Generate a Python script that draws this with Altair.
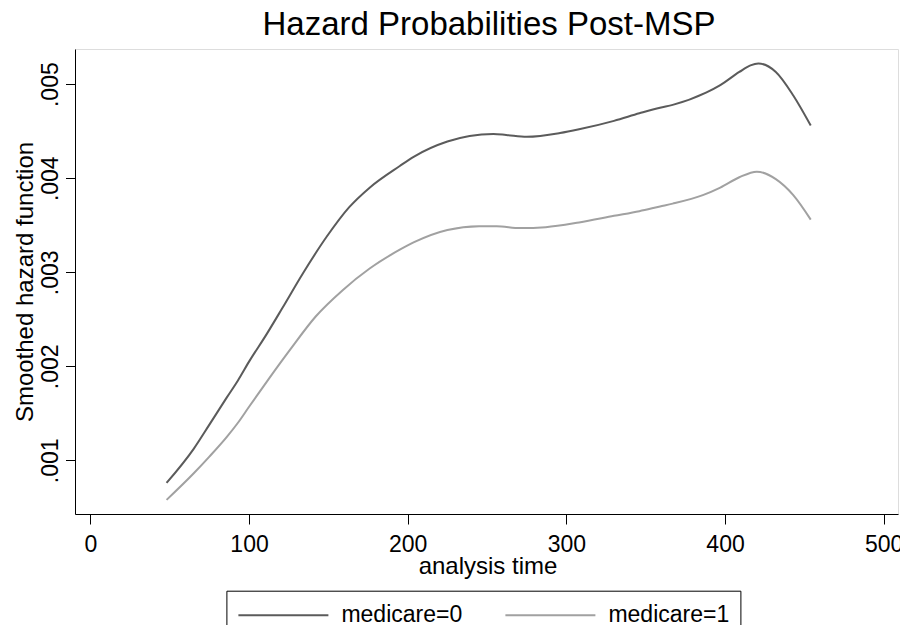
import altair as alt
import pandas as pd

# --- data ---
t0 = [48, 65, 75, 86, 93, 100, 111, 121, 134, 149, 163, 176, 195, 204,
      225, 239, 254, 262, 275, 296, 308, 330, 346, 359, 367, 388, 397, 409, 416,
      421, 432, 443, 454]
h0 = [0.00076, 0.00112, 0.00138, 0.00167, 0.00185, 0.00205, 0.00234,
      0.00262, 0.00299, 0.00338, 0.00369, 0.00390, 0.00413, 0.00423,
      0.00439, 0.00445, 0.00447, 0.00446, 0.00444, 0.00448, 0.00452, 0.00461,
      0.00469, 0.00475, 0.00478, 0.00491, 0.00499, 0.00513, 0.00520, 0.00522,
      0.00513, 0.00488, 0.00456]

t1 = [48, 65, 75, 86, 93, 100, 113, 126, 142, 159, 176, 195, 204, 225, 245, 256,
      271, 287, 308, 330, 346, 359, 367, 386, 397, 409, 420, 432, 443, 454]
h1 = [0.00058, 0.00086, 0.00104, 0.00125, 0.00140, 0.00157, 0.00188, 0.00218,
      0.00253, 0.00281, 0.00304, 0.00324, 0.00332, 0.00345, 0.00349, 0.00349,
      0.00347, 0.00348, 0.00353, 0.00360, 0.00365, 0.00370, 0.00373, 0.00382,
      0.00390, 0.00401, 0.00407, 0.00399, 0.00382, 0.00356]

series_names = ["medicare=0", "medicare=1"]
series_colors = ["#5b5b5b", "#a1a1a1"]
x_ticks = [0, 100, 200, 300, 400, 500]
y_ticks = [0.001, 0.002, 0.003, 0.004, 0.005]
chart_title = "Hazard Probabilities Post-MSP"

df = pd.concat([
    pd.DataFrame({"t": t0, "h": h0, "s": series_names[0]}),
    pd.DataFrame({"t": t1, "h": h1, "s": series_names[1]}),
])

FONT = "Liberation Sans"
W, H = 823, 465

lines = alt.Chart(df).mark_line(strokeWidth=2, interpolate="monotone").encode(
    x=alt.X("t:Q",
            scale=alt.Scale(domain=[-9.7, 509.0], nice=False, zero=False),
            axis=alt.Axis(values=x_ticks, title="analysis time", grid=False,
                          tickSize=10, labelPadding=9, labelFontSize=23,
                          titleFontSize=24, titleFontWeight="normal",
                          titleBaseline="alphabetic", titleY=59,
                          titleX=412.5,
                          domainColor="black", tickColor="black",
                          labelColor="black", titleColor="black",
                          labelFont=FONT, titleFont=FONT)),
    y=alt.Y("h:Q",
            scale=alt.Scale(domain=[0.00043, 0.005374], nice=False, zero=False),
            axis=alt.Axis(values=y_ticks, title="Smoothed hazard function",
                          grid=False, tickSize=9.5, labelPadding=8,
                          labelExpr="substring(format(datum.value, '.3f'), 1)",
                          labelAngle=270, labelAlign="center",
                          labelBaseline="alphabetic", labelFontSize=23,
                          titleFontSize=24, titleFontWeight="normal",
                          titleAngle=270, titleAlign="center",
                          titleBaseline="alphabetic", titleX=-43, titleY=H / 2,
                          domainColor="black", tickColor="black",
                          labelColor="black", titleColor="black",
                          labelFont=FONT, titleFont=FONT)),
    color=alt.Color("s:N",
                    scale=alt.Scale(domain=series_names, range=series_colors),
                    legend=alt.Legend(title=None, orient="none",
                                      legendX=151.4, legendY=541.7,
                                      direction="horizontal", columns=2,
                                      symbolType="stroke", symbolSize=8100,
                                      symbolStrokeWidth=2, clipHeight=27,
                                      labelOffset=12, columnPadding=42,
                                      padding=11, strokeColor="black",
                                      fillColor="white", labelFontSize=23,
                                      labelFont=FONT, labelColor="black")),
)

title_text = alt.Chart(pd.DataFrame({"label": [chart_title]})).mark_text(
    font=FONT, fontSize=33, color="black", align="center",
    baseline="alphabetic"
).encode(
    text="label:N",
    x=alt.value(414),
    y=alt.value(-14.3),
)

chart = alt.layer(lines, title_text).properties(
    width=W,
    height=H,
    autosize="none",
    padding={"left": 67, "top": 41, "right": 2, "bottom": 111},
).configure_view(
    stroke="black", strokeWidth=2
).configure(background="white")

chart.save("out.html", embed_options={"renderer": "svg", "actions": False})
